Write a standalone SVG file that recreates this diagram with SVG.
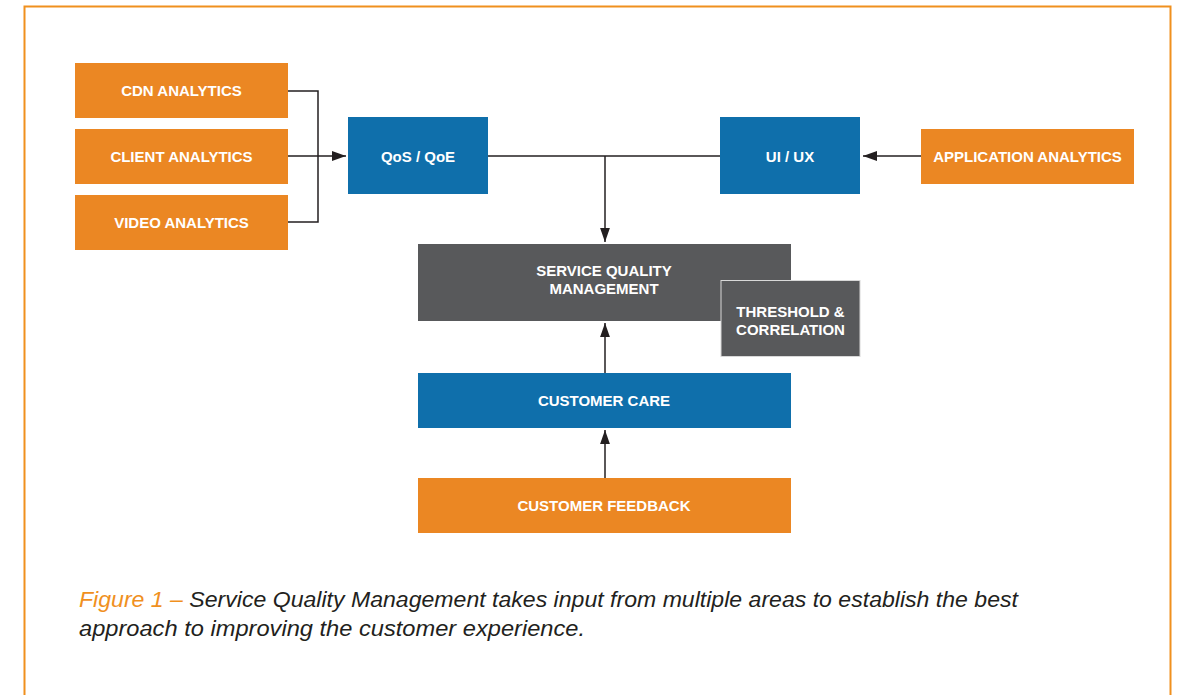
<svg xmlns="http://www.w3.org/2000/svg" width="1177" height="695" viewBox="0 0 1177 695">
<defs>
<style>
.o{fill:#EB8723}
.b{fill:#0F6FAB}
.g{fill:#58595B}
.t{font-family:"Liberation Sans",Arial,sans-serif;font-weight:bold;font-size:15px;fill:#fff;text-anchor:middle}
.c{stroke:#231F20;stroke-width:1.5;fill:none}
.cap{font-family:"Liberation Sans",Arial,sans-serif;font-style:italic;font-size:22.5px;fill:#231F20}
</style>
<marker id="ah" viewBox="0 0 10 10" refX="10" refY="5" markerWidth="14" markerHeight="14" markerUnits="userSpaceOnUse" orient="auto">
<path d="M0,1.5 L10,5 L0,8.5 Z" fill="#231F20"/>
</marker>
</defs>
<rect width="1177" height="695" fill="#fff"/>
<rect x="24.5" y="6.5" width="1146" height="720" fill="none" stroke="#F0901E" stroke-width="2"/>
<g id="connectors">
<path class="c" d="M288,91 H318 V222 H288"/>
<path class="c" d="M288,156 H346" marker-end="url(#ah)"/>
<path class="c" d="M488,156 H720"/>
<path class="c" d="M605,156 V242" marker-end="url(#ah)"/>
<path class="c" d="M921,156 H863" marker-end="url(#ah)"/>
<path class="c" d="M605,373 V323" marker-end="url(#ah)"/>
<path class="c" d="M605,478 V430" marker-end="url(#ah)"/>
</g>
<g id="cdn"><rect class="o" x="75" y="63" width="213" height="55"/><text class="t" x="181.5" y="96">CDN ANALYTICS</text></g>
<g id="client"><rect class="o" x="75" y="129" width="213" height="55"/><text class="t" x="181.5" y="161.5">CLIENT ANALYTICS</text></g>
<g id="video"><rect class="o" x="75" y="195" width="213" height="55"/><text class="t" x="181.5" y="227.5">VIDEO ANALYTICS</text></g>
<g id="qos"><rect class="b" x="348" y="117" width="140" height="77"/><text class="t" x="418" y="161.5">QoS / QoE</text></g>
<g id="uiux"><rect class="b" x="720" y="117" width="140" height="77"/><text class="t" x="790" y="161.5">UI / UX</text></g>
<g id="app"><rect class="o" x="921" y="129" width="213" height="55"/><text class="t" x="1027.5" y="161.5">APPLICATION ANALYTICS</text></g>
<g id="sqm"><rect class="g" x="418" y="244" width="373" height="77"/><text class="t" x="604" y="275.5">SERVICE QUALITY</text><text class="t" x="604" y="293.5">MANAGEMENT</text></g>
<g id="threshold"><rect class="g" x="721" y="280.5" width="139" height="76" stroke="#d8d8d8" stroke-width="1"/><text class="t" x="790.5" y="316.5">THRESHOLD &amp;</text><text class="t" x="790.5" y="334.5">CORRELATION</text></g>
<g id="care"><rect class="b" x="418" y="373" width="373" height="55"/><text class="t" x="604" y="405.5">CUSTOMER CARE</text></g>
<g id="feedback"><rect class="o" x="418" y="478" width="373" height="55"/><text class="t" x="604" y="510.5">CUSTOMER FEEDBACK</text></g>
<text class="cap" x="79" y="607" textLength="939" lengthAdjust="spacingAndGlyphs"><tspan fill="#F0901E">Figure 1 – </tspan>Service Quality Management takes input from multiple areas to establish the best</text>
<text class="cap" x="79" y="636" textLength="506" lengthAdjust="spacingAndGlyphs">approach to improving the customer experience.</text>
</svg>
